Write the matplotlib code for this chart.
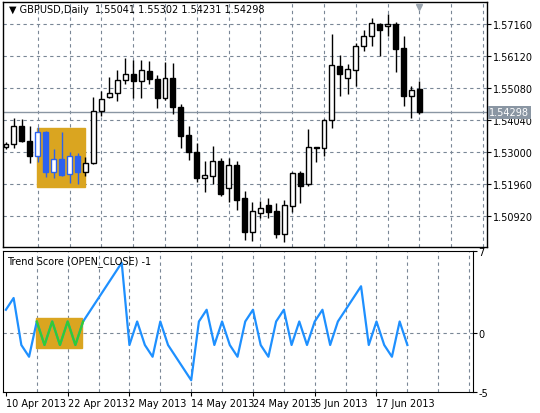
import matplotlib
matplotlib.use("Agg")
import matplotlib.pyplot as plt
import numpy as np

plt.rcParams["font.family"] = ["DejaVu Sans"]

# ── data (GBPUSD daily, 10 Apr 2013 .. 24 Jun 2013) ──
opens = [1.5316, 1.5325, 1.5383, 1.5336, 1.5288, 1.5364, 1.5236, 1.5276, 1.5227, 1.5286,
         1.5234, 1.5263, 1.5432, 1.5480, 1.5491, 1.5533, 1.5552, 1.5530, 1.5563, 1.5536,
         1.5477, 1.5539, 1.5445, 1.5355, 1.5299, 1.5217, 1.5221, 1.5270, 1.5182, 1.5258,
         1.5149, 1.5039, 1.5103, 1.5128, 1.5108, 1.5032, 1.5123, 1.5232, 1.5195, 1.5316,
         1.5312, 1.5403, 1.5578, 1.5539, 1.5568, 1.5643, 1.5676, 1.5717, 1.5708, 1.5717,
         1.5638, 1.5483, 1.55041]
highs = [1.5331, 1.5412, 1.5407, 1.5383, 1.5380, 1.5368, 1.5310, 1.5364, 1.5299, 1.5297,
         1.5283, 1.5478, 1.5498, 1.5544, 1.5567, 1.5604, 1.5598, 1.5598, 1.5596, 1.5550,
         1.5591, 1.5589, 1.5455, 1.5383, 1.5329, 1.5271, 1.5321, 1.5282, 1.5280, 1.5271,
         1.5172, 1.5139, 1.5141, 1.5152, 1.5134, 1.5143, 1.5236, 1.5238, 1.5375, 1.5316,
         1.5407, 1.5685, 1.5615, 1.5585, 1.5654, 1.5698, 1.5737, 1.5719, 1.5750, 1.5721,
         1.5678, 1.5513, 1.55302]
lows = [1.5310, 1.5314, 1.5334, 1.5264, 1.5266, 1.5218, 1.5214, 1.5223, 1.5199, 1.5195,
        1.5223, 1.5261, 1.5416, 1.5474, 1.5465, 1.5522, 1.5477, 1.5477, 1.5520, 1.5444,
        1.5468, 1.5422, 1.5312, 1.5275, 1.5204, 1.5171, 1.5195, 1.5156, 1.5139, 1.5110,
        1.5015, 1.5011, 1.5084, 1.5084, 1.5022, 1.5006, 1.5106, 1.5135, 1.5188, 1.5269,
        1.5288, 1.5379, 1.5483, 1.5490, 1.5513, 1.5628, 1.5646, 1.5613, 1.5678, 1.5561,
        1.5448, 1.5412, 1.54231]
closes = [1.5325, 1.5383, 1.5336, 1.5288, 1.5364, 1.5236, 1.5276, 1.5225, 1.5286, 1.5234,
          1.5263, 1.5432, 1.5472, 1.5491, 1.5533, 1.5552, 1.5530, 1.5565, 1.5536, 1.5477,
          1.5539, 1.5445, 1.5353, 1.5299, 1.5214, 1.5224, 1.5270, 1.5165, 1.5258, 1.5145,
          1.5039, 1.5108, 1.5118, 1.5106, 1.5032, 1.5127, 1.5231, 1.5191, 1.5315, 1.5312,
          1.5403, 1.5582, 1.5552, 1.5570, 1.5643, 1.5676, 1.5719, 1.5698, 1.5717, 1.5635,
          1.5483, 1.5503, 1.54298]
score = [2, 3, -1, -2, 1, -1, 1, -1, 1, -1, 1, 2, 3, 4, 5, 6, -1, 1, -1, -2, 1, -1, -2, -3, -4,
         1, 2, -1, 1, -1, -2, 1, 2, -1, -2, 1, 2, -1, 1, -1, 1, 2, -1, 1, 2, 3, 4, -1, 1, -1, -2, 1, -1]
pattern_bars = [4, 5, 6, 7, 8, 9]  # highlighted zig-zag pattern
price_ticks = [1.50920, 1.51960, 1.53000, 1.54040, 1.55080, 1.56120, 1.57160]
date_pos = [0, 8, 16, 24, 32, 40, 48]
date_labels = ["10 Apr 2013", "22 Apr 2013", "2 May 2013", "14 May 2013",
               "24 May 2013", "5 Jun 2013", "17 Jun 2013"]

GRID = "#7a8796"
BLUE = "#2a62f0"
LINE = "#1e90ff"
GOLD = "#daa520"
FS = 7

W, H = 540, 414
fig = plt.figure(figsize=(W / 100, H / 100), dpi=100, facecolor="white")
ax = fig.add_axes([3 / W, 1 - 248 / H, 484 / W, 245 / H])
ax2 = fig.add_axes([3 / W, 1 - 393 / H, 470 / W, 141 / H])

XL = (-0.375, 60.5)
x = np.arange(len(opens))

# ── main price panel ──
ax.set_xlim(XL)
ax.set_ylim(1.49912, 1.57875)
for gx in range(4, 61, 4):
    ax.axvline(gx, color=GRID, ls=(0, (3, 3)), lw=0.8, zorder=0)
for gy in price_ticks:
    ax.axhline(gy, color=GRID, ls=(0, (3, 3)), lw=0.8, zorder=0)
ax.add_patch(plt.Rectangle((3.95, 1.5186), 6.0, 1.5378 - 1.5186, color=GOLD, zorder=1))
ax.axhline(closes[-1], color="#8a96a3", lw=1.0, zorder=1)

for i in x:
    o, h, l, c = opens[i], highs[i], lows[i], closes[i]
    edge = BLUE if i in pattern_bars else "black"
    ax.vlines(i, l, h, color=edge, lw=1.0, zorder=2)
    fill = "white" if c >= o else edge
    lo, hi = min(o, c), max(o, c)
    ax.bar(i, max(hi - lo, 0.00008), bottom=lo, width=0.62, facecolor=fill,
           edgecolor=edge, lw=1.0, zorder=3)

ax.yaxis.tick_right()
ax.set_yticks(price_ticks)
ax.set_yticklabels([f"{t:.5f}" for t in price_ticks], fontsize=FS)
ax.tick_params(axis="y", length=3, pad=1)
ax.set_xticks([])
for s in ax.spines.values():
    s.set_linewidth(1.0)
ax.text(0.012, 0.99, "▼ GBPUSD,Daily  1.55041 1.55302 1.54231 1.54298",
        transform=ax.transAxes, fontsize=FS, va="top", ha="left")
ax.text(1.005, closes[-1], "1.54298", transform=ax.get_yaxis_transform(), fontsize=FS,
        va="center", ha="left", color="white",
        bbox=dict(boxstyle="square,pad=0.15", fc="#8a96a3", ec="none"), zorder=5)
ax.plot(52, 1.5772, marker="v", color="#9aa4ae", ms=5, clip_on=False)

# ── trend score panel ──
ax2.set_xlim(XL)
ax2.set_ylim(-5, 7)
for gx in range(4, 61, 4):
    ax2.axvline(gx, color=GRID, ls=(0, (3, 3)), lw=0.8, zorder=0)
ax2.axhline(0, color=GRID, ls=(0, (3, 3)), lw=0.8, zorder=0)
ax2.add_patch(plt.Rectangle((3.9, -1.25), 6.0, 2.55, color=GOLD, zorder=1))
ax2.plot(x, score, color=LINE, lw=1.6, zorder=2)
ax2.plot(x[4:11], score[4:11], color="#32cd32", lw=1.6, zorder=3)
ax2.yaxis.tick_right()
ax2.set_yticks([-5, 0, 7])
ax2.set_yticklabels(["-5", "0", "7"], fontsize=FS)
ax2.tick_params(axis="y", length=3, pad=1)
ax2.set_xticks(date_pos)
ax2.set_xticklabels(date_labels, fontsize=FS, ha="left")
ax2.tick_params(axis="x", length=3, pad=1)
ax2.text(0.008, 0.97, "Trend Score (OPEN_CLOSE) -1", transform=ax2.transAxes,
         fontsize=FS, va="top", ha="left")

fig.savefig("out.png", dpi=100, facecolor="white")
